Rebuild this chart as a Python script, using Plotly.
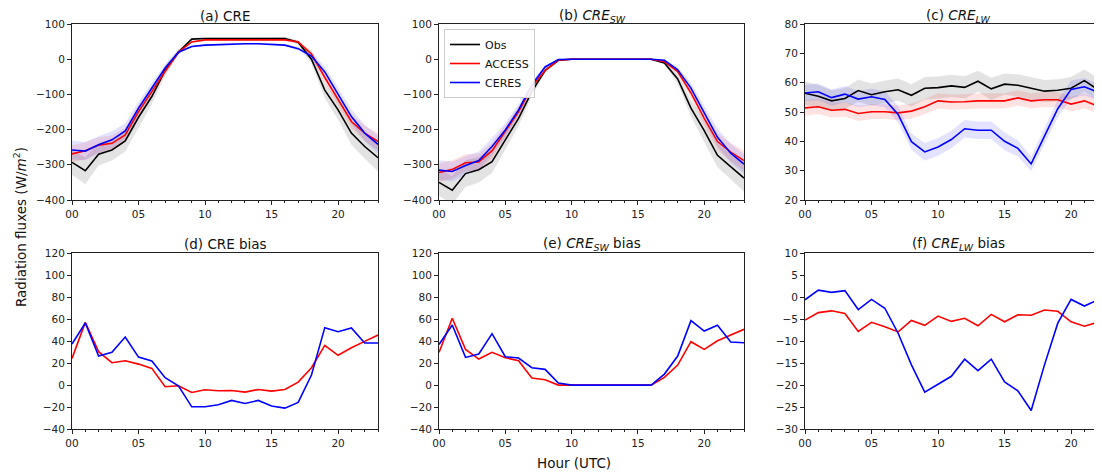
import plotly.graph_objects as go
from plotly.subplots import make_subplots

hours = list(range(24))

# (a) CRE
obs_cre = [-293, -317, -270, -258, -232, -165, -106, -32, 20, 57, 59, 59, 59, 61, 59, 59, 59, 48, 0, -88, -144, -210, -248, -280]
acc_cre = [-269, -260, -244, -239, -215, -149, -92, -34, 20, 49, 55, 55, 55, 55, 55, 55, 55, 49, 15, -52, -115, -177, -210, -234]
cer_cre = [-258, -261, -243, -229, -204, -139, -82, -25, 20, 36, 40, 42, 44, 44, 44, 42, 40, 30, 9, -36, -101, -163, -210, -242]
obs_cre_sd = [35, 38, 32, 30, 30, 28, 22, 15, 8, 4, 3, 3, 3, 3, 3, 3, 4, 6, 12, 22, 28, 33, 35, 38]
acc_cre_sd = [24, 24, 22, 22, 20, 18, 15, 10, 6, 3, 3, 3, 3, 3, 3, 3, 3, 5, 10, 15, 18, 20, 22, 24]
cer_cre_sd = [27, 26, 24, 24, 22, 19, 15, 10, 6, 3, 3, 3, 3, 3, 3, 3, 3, 5, 10, 16, 19, 21, 23, 25]

# (b) CRE_SW
obs_sw = [-350, -372, -325, -314, -291, -229, -168, -92, -32, -3, 0, 0, 0, 0, 0, 0, 0, -11, -56, -139, -203, -273, -305, -338]
acc_sw = [-322, -313, -294, -292, -260, -206, -149, -79, -32, -3, 0, 0, 0, 0, 0, 0, 0, -7, -35, -96, -168, -234, -264, -288]
cer_sw = [-315, -319, -302, -288, -248, -201, -144, -73, -22, -1, 0, 0, 0, 0, 0, 0, 0, -3, -30, -82, -153, -222, -267, -298]
obs_sw_sd = [38, 40, 38, 36, 32, 28, 22, 14, 6, 2, 0, 0, 0, 0, 0, 0, 1, 4, 14, 24, 30, 34, 36, 38]
acc_sw_sd = [26, 26, 24, 24, 22, 18, 14, 9, 4, 1, 0, 0, 0, 0, 0, 0, 0, 3, 8, 15, 20, 24, 26, 28]
cer_sw_sd = [28, 28, 26, 26, 24, 20, 15, 10, 5, 1, 0, 0, 0, 0, 0, 0, 0, 3, 8, 16, 21, 25, 27, 28]

# (c) CRE_LW
obs_lw = [56.4, 55.4, 53.8, 54.6, 57.3, 55.9, 56.9, 57.6, 55.7, 58.1, 58.3, 58.9, 58.4, 60.5, 57.9, 59.5, 59.1, 58.2, 57.1, 57.4, 58.1, 60.7, 57.7, 56.5]
acc_lw = [51.4, 51.8, 50.6, 50.9, 49.5, 50.1, 50.1, 49.7, 50.3, 51.8, 53.8, 53.4, 53.5, 53.8, 53.8, 53.8, 54.8, 53.8, 54.2, 54.2, 52.7, 53.8, 52.0, 51.5]
cer_lw = [56.5, 56.9, 54.9, 56.1, 54.4, 55.2, 54.3, 49.2, 39.9, 36.4, 38.1, 40.6, 44.3, 43.8, 43.8, 40.0, 37.6, 32.3, 41.8, 51.1, 57.7, 58.6, 56.8, 56.5]
obs_lw_sd = [4.0, 3.8, 3.6, 3.6, 3.8, 3.8, 3.8, 3.8, 3.8, 3.8, 3.8, 3.8, 3.8, 3.6, 3.8, 3.6, 3.8, 3.8, 3.8, 3.8, 3.8, 3.8, 3.8, 3.8]
acc_lw_sd = [2.6, 2.6, 2.5, 2.5, 2.6, 2.5, 2.5, 2.5, 2.5, 2.6, 2.6, 2.6, 2.6, 2.6, 2.6, 2.6, 2.6, 2.6, 2.6, 2.6, 2.5, 2.6, 2.5, 2.5]
cer_lw_sd = [2.8, 2.8, 2.8, 2.8, 2.8, 2.8, 2.8, 2.8, 2.8, 3.0, 3.0, 3.0, 3.0, 3.0, 3.0, 3.0, 2.8, 2.5, 2.8, 3.0, 3.0, 3.0, 2.8, 2.8]

# (d)-(f) biases
acc_cre_bias = [24.3, 57.1, 30.4, 20.4, 22.2, 19.1, 15.2, -1.5, -0.6, -6.7, -4.3, -5.2, -4.9, -6.4, -4.0, -5.5, -4.0, 2.7, 15.8, 36.2, 27.1, 34.0, 39.8, 45.6]
cer_cre_bias = [37.4, 56.5, 26.4, 29.8, 43.8, 25.5, 21.9, 6.7, -0.6, -19.8, -19.8, -17.9, -14.0, -16.7, -14.0, -19.1, -21.0, -15.8, 9.1, 52.3, 48.6, 52.0, 38.3, 38.3]
acc_sw_bias = [29.8, 60.8, 32.5, 23.7, 29.8, 24.9, 22.2, 6.4, 4.9, 0, 0, 0, 0, 0, 0, 0, 0, 7.0, 18.2, 39.5, 32.5, 40.4, 45.6, 50.8]
cer_sw_bias = [37.0, 54.7, 25.2, 28.3, 46.8, 25.8, 24.6, 15.8, 14.3, 1.8, 0, 0, 0, 0, 0, 0, 0, 10.0, 26.4, 58.7, 49.2, 54.4, 39.2, 38.6]
acc_lw_bias = [-5.2, -3.5, -3.1, -3.7, -7.8, -5.7, -6.7, -7.9, -5.3, -6.4, -4.3, -5.5, -4.8, -6.5, -3.9, -5.6, -4.0, -4.1, -2.9, -3.2, -5.6, -6.6, -5.7, -5.3]
cer_lw_bias = [-0.6, 1.6, 1.1, 1.5, -2.8, -0.5, -2.5, -8.2, -15.4, -21.6, -19.8, -18.0, -14.1, -16.7, -14.1, -19.3, -21.3, -25.8, -15.4, -5.9, -0.5, -2.0, -0.6, -0.3]

tick_vals = [0, 5, 10, 15, 20]
tick_text = ["00", "05", "10", "15", "20"]

FONT = "DejaVu Sans"
C_OBS, C_ACC, C_CER = "black", "#ff0000", "#0000ff"
BAND = {C_OBS: "rgba(0,0,0,0.11)", C_ACC: "rgba(255,0,0,0.11)", C_CER: "rgba(0,0,255,0.11)"}

fig = make_subplots(rows=2, cols=3)


def add_band(mean, sd, color, row, col):
    up = [m + s for m, s in zip(mean, sd)]
    lo = [m - s for m, s in zip(mean, sd)]
    fig.add_trace(go.Scatter(x=hours, y=up, mode="lines", line=dict(width=0),
                             showlegend=False, hoverinfo="skip"), row=row, col=col)
    fig.add_trace(go.Scatter(x=hours, y=lo, mode="lines", line=dict(width=0),
                             fill="tonexty", fillcolor=BAND[color],
                             showlegend=False, hoverinfo="skip"), row=row, col=col)


def add_line(y, color, name, row, col, legend=False):
    fig.add_trace(go.Scatter(x=hours, y=y, mode="lines", name=name,
                             line=dict(color=color, width=1.6),
                             showlegend=legend), row=row, col=col)


top = [
    (obs_cre, obs_cre_sd, acc_cre, acc_cre_sd, cer_cre, cer_cre_sd),
    (obs_sw, obs_sw_sd, acc_sw, acc_sw_sd, cer_sw, cer_sw_sd),
    (obs_lw, obs_lw_sd, acc_lw, acc_lw_sd, cer_lw, cer_lw_sd),
]
for i, (o, osd, a, asd, c, csd) in enumerate(top):
    col = i + 1
    add_band(o, osd, C_OBS, 1, col)
    add_band(a, asd, C_ACC, 1, col)
    add_band(c, csd, C_CER, 1, col)
    add_line(o, C_OBS, "Obs", 1, col, legend=(col == 2))
    add_line(a, C_ACC, "ACCESS", 1, col, legend=(col == 2))
    add_line(c, C_CER, "CERES", 1, col, legend=(col == 2))

bottom = [(acc_cre_bias, cer_cre_bias), (acc_sw_bias, cer_sw_bias), (acc_lw_bias, cer_lw_bias)]
for i, (a, c) in enumerate(bottom):
    col = i + 1
    fig.add_hline(y=0, line_dash="dash", line_color="#222", line_width=1.5, row=2, col=col)
    add_line(a, C_ACC, "ACCESS", 2, col)
    add_line(c, C_CER, "CERES", 2, col)

# the page body has an 8 px margin, so the figure is 8 px smaller and all
# positions below are screen pixels minus 8
OFF = 8
W, H = 1102 - OFF, 474 - OFF
L, T = 72 - OFF, 24 - OFF
B = 474 - 429
pw, ph = W - L, H - T - B


def px(x):
    return (x - OFF - L) / pw


def py(y):
    return (H - B - (y - OFF)) / ph


def xd(a, b):
    return [px(a), min(px(b), 1.0)]


def yd(a, b):
    return [py(b), py(a)]


xdoms = [xd(72, 378), xd(439, 744), xd(805, 1102)]
ydoms = [yd(24, 200), yd(253.3, 429)]
clip_end = 23 * (1102 - 805) / 306.0
x_left = [72, 439, 805]
title_y = [16.5, 244]

yranges = [[-400, 100], [-400, 100], [20, 80], [-40, 120], [-40, 120], [-30, 10]]
ydticks = [100, 100, 10, 20, 20, 5]

axis_style = dict(showgrid=False, zeroline=False, showline=True, linecolor="#222", linewidth=1,
                  ticks="outside", ticklen=4, tickwidth=1, tickcolor="#222",
                  tickfont=dict(family=FONT, size=10.5, color="#222"))

for k in range(6):
    r, c = k // 3, k % 3
    xr = [0, clip_end] if c == 2 else [0, 23]
    fig.update_xaxes(row=r + 1, col=c + 1, domain=xdoms[c], range=xr,
                     tickvals=tick_vals, ticktext=tick_text, mirror=True,
                     minor=dict(dtick=1, tick0=0, ticks="outside", ticklen=2, tickcolor="#222"),
                     automargin=False, **axis_style)
    fig.update_yaxes(row=r + 1, col=c + 1, domain=ydoms[r], range=yranges[k],
                     dtick=ydticks[k], tick0=0, mirror=(c != 2),
                     automargin=False, **axis_style)

titles = ["(a) CRE", "(b) <i>CRE</i><sub><i>SW</i></sub>", "(c) <i>CRE</i><sub><i>LW</i></sub>",
          "(d) CRE bias", "(e) <i>CRE</i><sub><i>SW</i></sub> bias", "(f) <i>CRE</i><sub><i>LW</i></sub> bias"]
for k, t in enumerate(titles):
    r, c = k // 3, k % 3
    fig.add_annotation(text=t, xref="paper", yref="paper",
                       x=px(x_left[c] + 153), y=py(title_y[r]), yanchor="middle", xanchor="center",
                       showarrow=False, font=dict(family=FONT, size=13.5, color="#111"))

fig.add_annotation(text="Radiation fluxes (W/<i>m</i><sup>2</sup>)", xref="paper", yref="paper",
                   x=px(20), y=py(227), xanchor="center", yanchor="middle",
                   textangle=-90, showarrow=False,
                   font=dict(family=FONT, size=13.5, color="#111"))
fig.add_annotation(text="Hour (UTC)", xref="paper", yref="paper",
                   x=px(574), y=py(463), xanchor="center", yanchor="middle", showarrow=False,
                   font=dict(family=FONT, size=13.5, color="#111"))

fig.update_layout(
    width=W, height=H,
    margin=dict(l=L, r=0, t=T, b=B),
    plot_bgcolor="white", paper_bgcolor="white",
    font=dict(family=FONT, color="#222"),
    legend=dict(x=px(444), y=py(29), xanchor="left", yanchor="top", traceorder="normal",
                bgcolor="rgba(255,255,255,0.9)", bordercolor="#cccccc", borderwidth=1,
                font=dict(family=FONT, size=11, color="#111"), tracegroupgap=0),
)

fig.write_html("out.html")
